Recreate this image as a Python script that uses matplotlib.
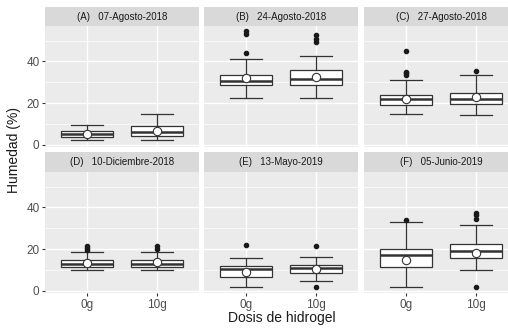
import matplotlib.pyplot as plt
from matplotlib.ticker import MultipleLocator

W, H = 508, 328

panels = ["(A)   07-Agosto-2018", "(B)   24-Agosto-2018", "(C)   27-Agosto-2018",
          "(D)   10-Diciembre-2018", "(E)   13-Mayo-2019", "(F)   05-Junio-2019"]
doses = ["0g", "10g"]

# [whislo, q1, med, q3, whishi] per panel, per dose
stats_0g = [[2.2, 4.0, 5.1, 6.6, 9.6],
            [22.7, 28.5, 30.8, 33.7, 41.0],
            [15.0, 19.0, 22.0, 23.9, 31.0],
            [10.2, 11.5, 12.8, 14.7, 18.7],
            [1.9, 6.7, 10.4, 11.8, 16.0],
            [1.9, 11.5, 17.0, 20.2, 33.1]]
stats_10g = [[2.2, 4.2, 6.2, 9.3, 15.0],
             [22.6, 28.7, 31.8, 35.8, 42.6],
             [14.4, 19.5, 22.0, 25.1, 33.4],
             [10.2, 11.7, 13.1, 15.0, 18.7],
             [4.8, 8.8, 11.2, 12.6, 16.3],
             [10.1, 15.7, 19.2, 22.4, 31.8]]
means_0g = [5.1, 32.1, 22.1, 13.4, 9.1, 14.7]
means_10g = [6.7, 32.6, 22.9, 13.8, 10.4, 18.4]
outliers_0g = [[], [44.2, 53.2, 54.6], [33.5, 34.5, 35.0, 44.8],
               [19.5, 20.5, 21.4], [21.9], [34.2]]
outliers_10g = [[], [49.5, 51.0, 52.5], [35.2],
                [20.0, 21.5], [1.9, 21.4], [1.9, 34.7, 36.5, 37.5]]

plt.rcParams['font.family'] = 'Liberation Sans'
fig = plt.figure(figsize=(W / 100, H / 100), dpi=100)

col_left = [45, 204, 364]
pw = 154
rows = [(26, 147, 7), (172, 293, 152)]  # panel top, panel bottom, strip top
dark = "#333333"

for k in range(6):
    r, c = divmod(k, 3)
    top, bot, stop = rows[r]
    ax = fig.add_axes([col_left[c] / W, 1 - bot / H, pw / W, (bot - top) / H])
    sx = fig.add_axes([col_left[c] / W, 1 - top / H, pw / W, (top - stop) / H])
    sx.set_facecolor("#D9D9D9")
    sx.set_xticks([]); sx.set_yticks([])
    for s in sx.spines.values():
        s.set_visible(False)
    sx.text(0.5, 0.5, panels[k], ha="center", va="center", fontsize=7, color="#1A1A1A",
            transform=sx.transAxes)

    ax.set_facecolor("#EBEBEB")
    for s in ax.spines.values():
        s.set_visible(False)
    ax.set_axisbelow(True)
    ax.yaxis.set_major_locator(MultipleLocator(20))
    ax.yaxis.set_minor_locator(MultipleLocator(10))
    ax.grid(which="major", color="white", lw=1.0)
    ax.grid(which="minor", axis="y", color="white", lw=0.5)
    ax.tick_params(which="minor", length=0)
    ax.tick_params(which="major", length=2.5, color=dark, labelcolor="#4D4D4D", labelsize=8.5, pad=1.5)

    bstats = []
    for st, mu, fl in ((stats_0g[k], means_0g[k], outliers_0g[k]),
                       (stats_10g[k], means_10g[k], outliers_10g[k])):
        bstats.append(dict(whislo=st[0], q1=st[1], med=st[2], q3=st[3], whishi=st[4],
                           mean=mu, fliers=fl))
    ax.bxp(bstats, positions=[1, 2], widths=0.75, patch_artist=True, showmeans=True,
           capwidths=0.45,
           boxprops=dict(facecolor="white", edgecolor=dark, lw=0.9),
           medianprops=dict(color=dark, lw=1.8),
           whiskerprops=dict(color=dark, lw=0.9),
           capprops=dict(color=dark, lw=0.9),
           flierprops=dict(marker="o", markerfacecolor="#1A1A1A", markeredgecolor="#1A1A1A",
                           markersize=3),
           meanprops=dict(marker="o", markerfacecolor="white", markeredgecolor=dark,
                          markersize=6, markeredgewidth=0.8))
    ax.set_xlim(0.4, 2.6)
    ax.set_ylim(-1, 57)
    ax.set_xticks([1, 2])
    if r == 1:
        ax.set_xticklabels(doses)
    else:
        ax.tick_params(axis="x", length=0, labelbottom=False)
    if c != 0:
        ax.tick_params(axis="y", length=0, labelleft=False)

fig.text(14 / W, 1 - 150 / H, "Humedad (%)", rotation=90, ha="center", va="center",
         fontsize=10, color="#1A1A1A")
fig.text((45 + 518) / 2 / W, 1 - 318 / H, "Dosis de hidrogel", ha="center", va="center",
         fontsize=10, color="#1A1A1A")

fig.savefig("out.png", dpi=100)
